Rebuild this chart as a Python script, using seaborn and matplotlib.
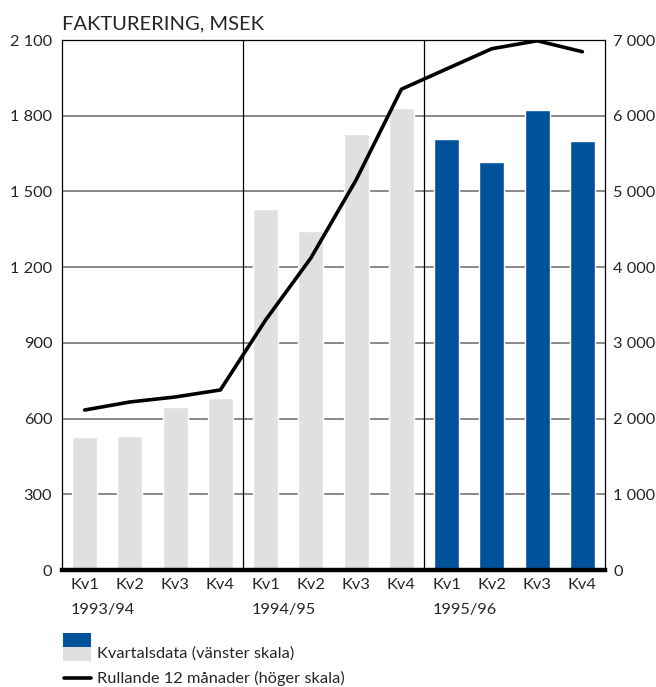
import matplotlib.pyplot as plt
import matplotlib.patches as mpatches
import matplotlib.lines as mlines
import matplotlib.ticker as mticker
import pandas as pd
import seaborn as sns

# Data
years = ["1993/94", "1994/95", "1995/96"]
quarters = ["Kv1", "Kv2", "Kv3", "Kv4"]
kvartalsdata = [527, 531, 646, 681, 1430, 1343, 1727, 1830, 1708, 1616, 1822, 1700]  # MSEK, left axis
rullande_12 = [2113, 2219, 2285, 2378, 3302, 4121, 5152, 6350, 6618, 6885, 6990, 6845]  # MSEK, right axis
bar_group = ["old", "old", "old", "old", "old", "old", "old", "old", "new", "new", "new", "new"]

BLUE = "#00529b"
GREY = "#e0e0e0"
FS = 11.8

sns.set_style("white")
plt.rcParams["font.family"] = ["Lato", "DejaVu Sans"]

df = pd.DataFrame({
    "period": [f"{y} {q}" for y in years for q in quarters],
    "kvartal": kvartalsdata,
    "rullande": rullande_12,
    "grupp": bar_group,
})
df["pos"] = range(len(df))

fig = plt.figure(figsize=(6.56, 6.87), dpi=100)
ax = fig.add_axes([62 / 656, 1 - 570 / 687, 543 / 656, 530 / 687])

sns.barplot(data=df, x="period", y="kvartal", hue="grupp",
            palette={"old": GREY, "new": BLUE}, width=0.55, dodge=False,
            saturation=1, legend=False, ax=ax, zorder=3)

ax.set_xlim(-0.5, 11.5)
ax.set_ylim(0, 2100)
ax.set_yticks(range(0, 2101, 300))
fmt = mticker.FuncFormatter(lambda v, p: f"{int(v):,}".replace(",", " "))
ax.yaxis.set_major_formatter(fmt)
ax.grid(axis="y", color="#808080", linewidth=1.3)
ax.set_axisbelow(True)
for xs in [3.5, 7.5]:
    ax.axvline(xs, color="black", linewidth=0.9, zorder=2)

ax.set_xticks(range(12))
ax.set_xticklabels(quarters * 3, fontsize=FS)
ax.set_xlabel("")
ax.set_ylabel("")
ax.tick_params(axis="both", length=0, labelsize=FS)
ax.tick_params(axis="x", pad=6)
ax.tick_params(axis="y", pad=7)

for side in ["left", "right", "top"]:
    ax.spines[side].set_color("black")
    ax.spines[side].set_linewidth(0.9)
ax.spines["bottom"].set_color("black")
ax.spines["bottom"].set_linewidth(3.2)
ax.spines["bottom"].set_zorder(6)

# Right axis with rolling 12 months
ax2 = ax.twinx()
sns.lineplot(data=df, x="pos", y="rullande", color="black", linewidth=2.6,
             ax=ax2, zorder=5)
ax2.set_ylim(0, 7000)
ax2.set_xlim(-0.5, 11.5)
ax2.set_yticks(range(0, 7001, 1000))
ax2.yaxis.set_major_formatter(fmt)
ax2.tick_params(axis="y", length=0, labelsize=FS, pad=6)
ax2.set_ylabel("")
ax2.set_xlabel("")
for s in ax2.spines.values():
    s.set_visible(False)

# Year labels under the quarters
for i, y in enumerate(years):
    ax.text(i * 4 - 0.3, -0.075, y, transform=ax.get_xaxis_transform(),
            ha="left", va="center", fontsize=FS)

fig.text(62 / 656, 1 - 24 / 687, "FAKTURERING, MSEK", ha="left", va="center", fontsize=14.5)

# Legend
fig.add_artist(mpatches.Rectangle((63 / 656, 1 - 647 / 687), 28 / 656, 14 / 687,
                                  facecolor=BLUE, edgecolor="none", transform=fig.transFigure))
fig.add_artist(mpatches.Rectangle((63 / 656, 1 - 661 / 687), 28 / 656, 14 / 687,
                                  facecolor="#dde0dd", edgecolor="none", transform=fig.transFigure))
fig.text(97 / 656, 1 - 654 / 687, "Kvartalsdata (vänster skala)", ha="left", va="center", fontsize=FS)
fig.add_artist(mlines.Line2D([64 / 656, 91 / 656], [1 - 678 / 687, 1 - 678 / 687],
                             color="black", linewidth=2.6, transform=fig.transFigure))
fig.text(97 / 656, 1 - 678 / 687, "Rullande 12 månader (höger skala)", ha="left", va="center", fontsize=FS)

fig.savefig("out.png", dpi=100)
